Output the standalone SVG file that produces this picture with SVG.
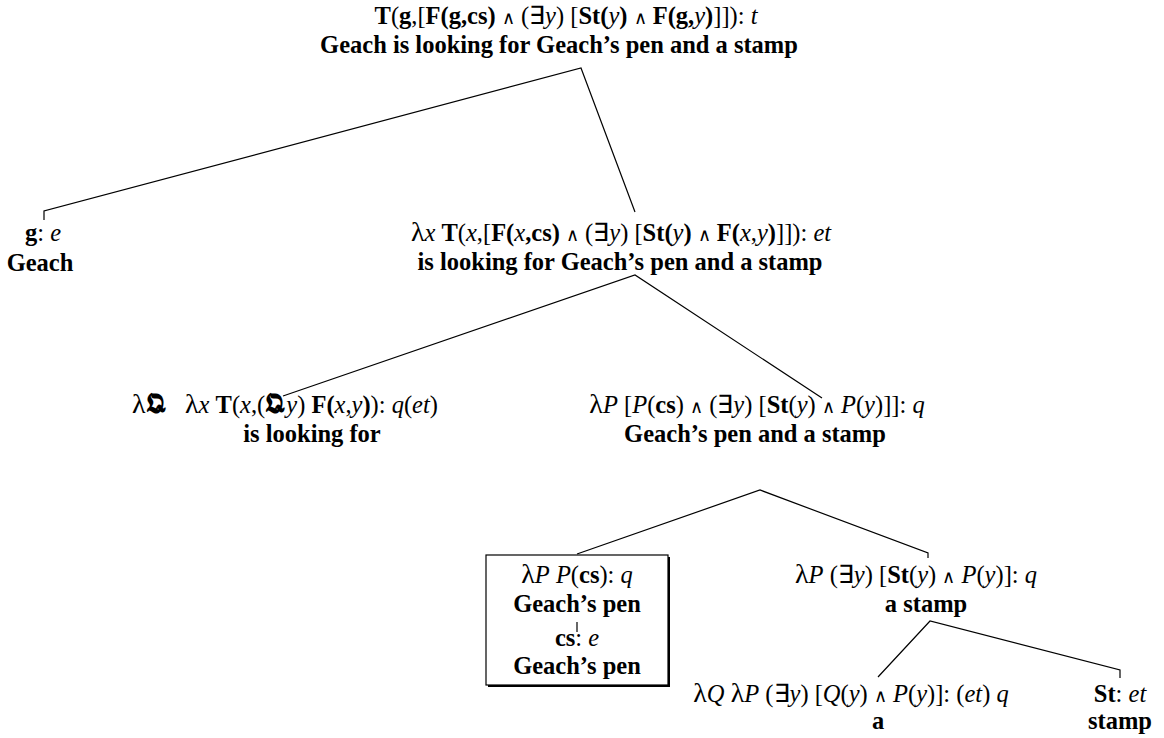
<svg xmlns="http://www.w3.org/2000/svg" width="1164" height="738" viewBox="0 0 1164 738">
<style>
text{font-family:"Liberation Serif","Times New Roman",serif;font-size:24.5px;fill:#000;text-anchor:middle}
.b{font-weight:bold}
.i{font-style:italic}
.l{font-size:28px}
.w{font-size:18px}
.q{font-size:27px;font-weight:bold}
.c{fill:none;stroke:#000;stroke-width:1.2}
</style>
<rect width="1164" height="738" fill="#fff"/>
<g id="connectors">
<polyline class="c" points="44,220 44,211 581,68 635,212"/>
<polyline class="c" points="283,396 635,275 822,398"/>
<polyline class="c" points="577,554 760,490 928,553 928,558"/>
<polyline class="c" points="878,677 930,621 1120,670 1120,678"/>
<line class="c" x1="577" y1="622" x2="577" y2="632"/>
</g>
<g id="n-root">
<text x="566" y="24"><tspan class="b">T</tspan>(<tspan class="b">g</tspan>,[<tspan class="b">F(g,cs)</tspan> <tspan class="w">∧</tspan> (∃<tspan class="i">y</tspan>) [<tspan class="b">St(</tspan><tspan class="i">y</tspan><tspan class="b">)</tspan> <tspan class="w">∧</tspan> <tspan class="b">F(g,</tspan><tspan class="i">y</tspan><tspan class="b">)</tspan>]]): <tspan class="i">t</tspan></text>
<text x="559" y="53" class="b">Geach is looking for Geach’s pen and a stamp</text>
</g>
<g id="n-g">
<text x="43" y="241"><tspan class="b">g</tspan>: <tspan class="i">e</tspan></text>
<text x="40" y="271" class="b">Geach</text>
</g>
<g id="n-vp">
<text x="621" y="241"><tspan class="l">λ</tspan><tspan class="i">x</tspan> <tspan class="b">T</tspan>(<tspan class="i">x</tspan>,[<tspan class="b">F(</tspan><tspan class="i">x</tspan><tspan class="b">,cs)</tspan> <tspan class="w">∧</tspan> (∃<tspan class="i">y</tspan>) [<tspan class="b">St(</tspan><tspan class="i">y</tspan><tspan class="b">)</tspan> <tspan class="w">∧</tspan> <tspan class="b">F(</tspan><tspan class="i">x</tspan>,<tspan class="i">y</tspan><tspan class="b">)</tspan>]]): <tspan class="i">et</tspan></text>
<text x="620" y="270" class="b">is looking for Geach’s pen and a stamp</text>
</g>
<g id="n-verb">
<text x="285" y="413"><tspan class="l">λ</tspan><tspan class="q">𝕼</tspan>&#160;&#160;&#160;<tspan class="l">λ</tspan><tspan class="i">x</tspan> <tspan class="b">T</tspan>(<tspan class="i">x</tspan>,(<tspan class="q">𝕼</tspan><tspan class="i">y</tspan>) <tspan class="b">F(</tspan><tspan class="i">x</tspan>,<tspan class="i">y</tspan><tspan class="b">)</tspan>): <tspan class="i">q</tspan>(<tspan class="i">et</tspan>)</text>
<text x="312" y="442" class="b">is looking for</text>
</g>
<g id="n-np">
<text x="757" y="413"><tspan class="l">λ</tspan><tspan class="i">P</tspan> [<tspan class="i">P</tspan>(<tspan class="b">cs</tspan>) <tspan class="w">∧</tspan> (∃<tspan class="i">y</tspan>) [<tspan class="b">St</tspan>(<tspan class="i">y</tspan>) <tspan class="w">∧</tspan> <tspan class="i">P</tspan>(<tspan class="i">y</tspan>)]]: <tspan class="i">q</tspan></text>
<text x="755" y="442" class="b">Geach’s pen and a stamp</text>
</g>
<g id="n-pen">
<polyline fill="none" stroke="#000" stroke-width="2" points="669,557 669,686 488,686"/>
<rect x="486" y="555" width="182" height="130" fill="none" stroke="#000" stroke-width="1.2"/>
<text x="577" y="583"><tspan class="l">λ</tspan><tspan class="i">P</tspan> <tspan class="i">P</tspan>(<tspan class="b">cs</tspan>): <tspan class="i">q</tspan></text>
<text x="577" y="612" class="b">Geach’s pen</text>
<text x="577" y="646"><tspan class="b">cs</tspan>: <tspan class="i">e</tspan></text>
<text x="577" y="674" class="b">Geach’s pen</text>
</g>
<g id="n-astamp">
<text x="916" y="583"><tspan class="l">λ</tspan><tspan class="i">P</tspan> (∃<tspan class="i">y</tspan>) [<tspan class="b">St</tspan>(<tspan class="i">y</tspan>) <tspan class="w">∧</tspan> <tspan class="i">P</tspan>(<tspan class="i">y</tspan>)]: <tspan class="i">q</tspan></text>
<text x="926" y="612" class="b">a stamp</text>
</g>
<g id="n-a">
<text x="851" y="702"><tspan class="l">λ</tspan><tspan class="i">Q</tspan> <tspan class="l">λ</tspan><tspan class="i">P</tspan> (∃<tspan class="i">y</tspan>) [<tspan class="i">Q</tspan>(<tspan class="i">y</tspan>) <tspan class="w">∧</tspan> <tspan class="i">P</tspan>(<tspan class="i">y</tspan>)]: (<tspan class="i">et</tspan>) <tspan class="i">q</tspan></text>
<text x="878" y="729" class="b">a</text>
</g>
<g id="n-st">
<text x="1120" y="702"><tspan class="b">St</tspan>: <tspan class="i">et</tspan></text>
<text x="1120" y="729" class="b">stamp</text>
</g>
</svg>
